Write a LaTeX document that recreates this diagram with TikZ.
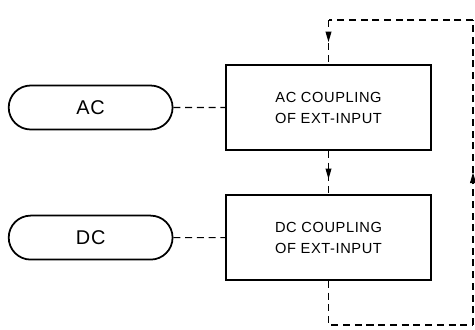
\documentclass[tikz,border=0pt]{standalone}
\usepackage{fontspec}
\setmainfont{Liberation Sans}
\newfontfamily\lettering[LetterSpace=4]{Liberation Sans}
\usetikzlibrary{shapes.misc,positioning,arrows.meta,decorations.markings}

\begin{document}
\begin{tikzpicture}[
    x=0.03cm, y=-0.03cm,
    block/.style={rectangle, draw, line width=1.5pt, minimum width=6.15cm,
        minimum height=2.55cm, align=center,
        font=\lettering\fontsize{12.5}{18}\selectfont},
    switch/.style={rounded rectangle, draw, line width=1.5pt, minimum width=5.15cm,
        minimum height=1.32cm, font=\lettering\fontsize{17}{20}\selectfont},
    link/.style={dash pattern=on 6pt off 4pt, line width=0.9pt},
    midarrow/.style={postaction={decorate}, decoration={markings,
        mark=at position #1 with {\arrow{Triangle[length=9pt,width=5pt]}}}},
    midarrow/.default=0.5
]
    \useasboundingbox (0,0) rectangle (475,329);

    % Coupling blocks
    \node[block] (acbox) at (328.5,107.5) {AC COUPLING\\OF EXT-INPUT};
    \node[block, below=1.3cm of acbox] (dcbox) {DC COUPLING\\OF EXT-INPUT};

    % Selector keys
    \node[switch, left=1.55cm of acbox] (ac) {AC};
    \node[switch, left=1.55cm of dcbox] (dc) {DC};

    % Feedback loop corners
    \coordinate (tl) at (acbox.north |- 0,20);
    \coordinate (tr) at (473,20);
    \coordinate (br) at (473,325);
    \coordinate (bl) at (dcbox.south |- 0,325);

    % Connections
    \draw[link] (ac) -- (acbox);
    \draw[link] (dc) -- (dcbox);
    \draw[link, midarrow=0.65] (acbox) -- (dcbox);
    \draw[link] (dcbox) -- (bl) -- (br);
    \draw[link, midarrow] (br) -- (tr);
    \draw[link] (tr) -- (tl);
    \draw[link, midarrow] (tl) -- (acbox);
\end{tikzpicture}
\end{document}
